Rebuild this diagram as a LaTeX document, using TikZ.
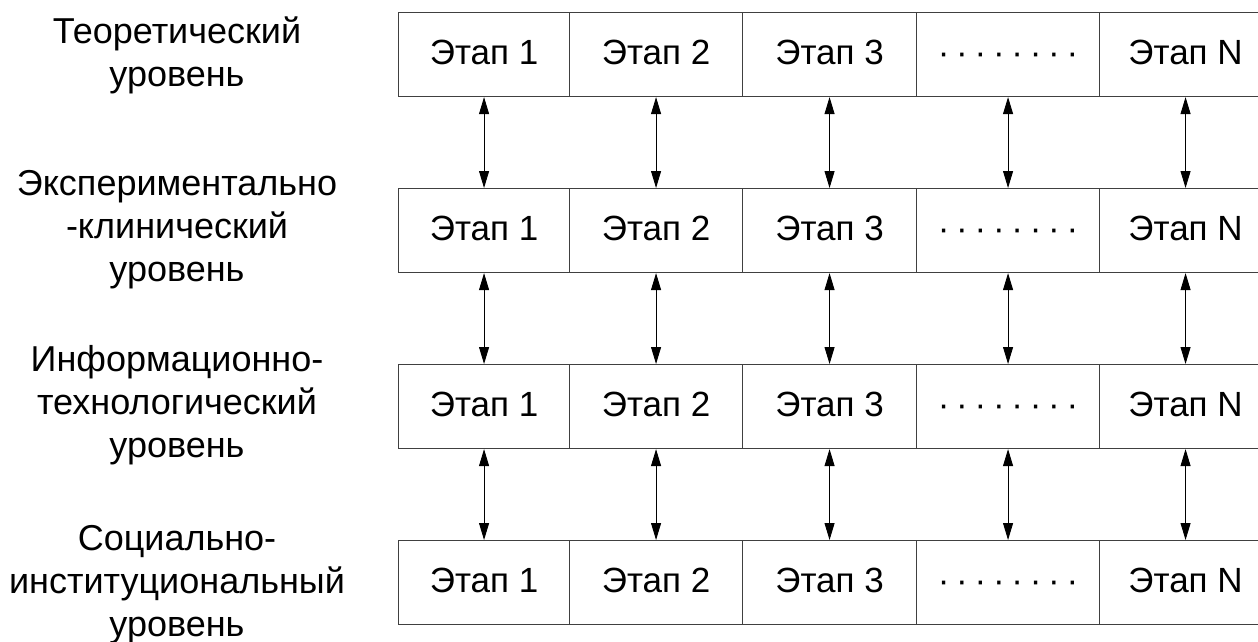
\documentclass[tikz,border=0pt]{standalone}
\usepackage{fontspec}
\setmainfont{Liberation Sans}
\usetikzlibrary{arrows.meta}
\newcommand\mydot{\makebox[18.4pt]{·}}
\begin{document}
\begin{tikzpicture}[x=1pt,y=-1pt,
  cell/.style={draw=black!75,line width=1.1pt,anchor=north west,minimum height=84pt,inner sep=0pt,
    text height=20pt,text depth=0pt,font=\fontsize{35}{42}\selectfont},
  lvl/.style={align=center,font=\fontsize{36}{43}\selectfont,inner sep=0pt},
  link/.style={draw=black,line width=0.9pt,{Triangle[width=10pt,length=17pt]}-{Triangle[width=10pt,length=17pt]}}]
\useasboundingbox (0,0) rectangle (1258,642);
\fill[white] (0,0) rectangle (1258,642);
\foreach \r/\y in {1/12,2/188,3/364,4/540}{
  \node[cell,minimum width=171pt] (c\r1) at (398,\y) {Этап 1};
  \node[cell,minimum width=173pt] (c\r2) at (569,\y) {Этап 2};
  \node[cell,minimum width=174pt] (c\r3) at (742,\y) {Этап 3};
  \node[cell,minimum width=183pt] (c\r4) at (916,\y) {\mydot\mydot\mydot\mydot\mydot\mydot\mydot\mydot};
  \node[cell,minimum width=172pt] (c\r5) at (1099,\y) {Этап N};
}
\foreach \r/\s in {1/2,2/3,3/4}{
  \foreach \c in {1,...,5}{
    \draw[link] (c\r\c.south) -- (c\s\c.north);
  }
}
\node[lvl] (l1) at (177,55) {Теоретический\\уровень};
\node[lvl] (l2) at (177,230) {Экспериментально\\-клинический\\уровень};
\node[lvl] (l3) at (177,405) {Информационно-\\технологический\\уровень};
\node[lvl] (l4) at (177,585) {Социально-\\институциональный\\уровень};
\end{tikzpicture}
\end{document}
